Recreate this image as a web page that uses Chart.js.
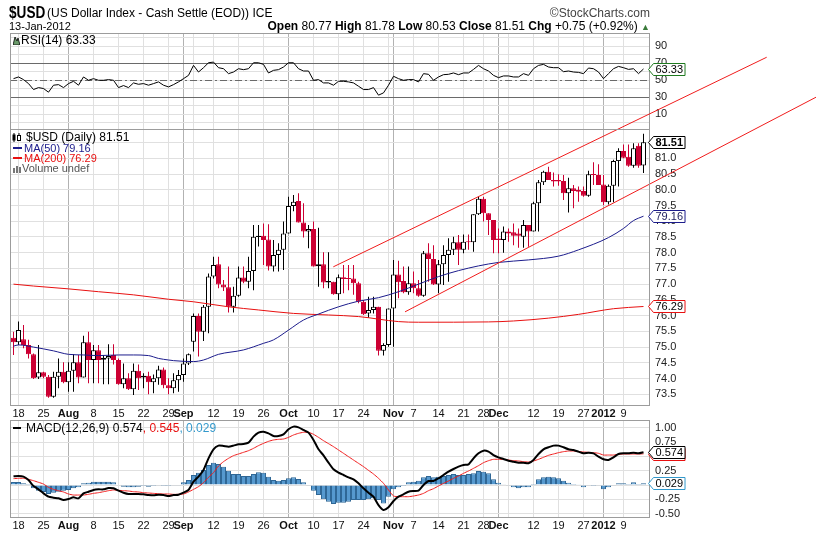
<!DOCTYPE html>
<html lang="en">
<head>
<meta charset="utf-8">
<title>$USD - US Dollar Index</title>
<script src="https://cdn.jsdelivr.net/npm/chart.js@4.4.1/dist/chart.umd.min.js"></script>
<style>
  html, body { margin: 0; padding: 0; background: #fff; }
  body { position: relative; width: 816px; height: 536px; overflow: hidden;
         font-family: "Liberation Sans", Arial, sans-serif; color: #000; }
  canvas { position: absolute; left: 0; top: 0; }
  .t { position: absolute; white-space: nowrap; line-height: 1; }
  .dash { display: inline-block; width: 9px; height: 2px; vertical-align: middle; margin: 0 2px 2px 0; }
  svg { vertical-align: -1px; }
</style>
</head>
<body>
<canvas id="rsiChart" width="816" height="536"></canvas>
<canvas id="macdChart" width="816" height="536"></canvas>
<canvas id="priceChart" width="816" height="536"></canvas>

<div class="t" style="left:9px;top:4px;font-size:17px;font-weight:bold;transform:scaleX(0.8);transform-origin:0 0">$USD</div>
<div class="t" style="left:47px;top:7px;font-size:12px">(US Dollar Index - Cash Settle (EOD)) ICE</div>
<div class="t" style="right:166px;top:7px;font-size:12px;color:#444">©StockCharts.com</div>
<div class="t" style="left:9px;top:20.5px;font-size:11px">13-Jan-2012</div>
<div class="t" style="right:166px;top:20px;font-size:12px"><b>Open</b> 80.77 <b>High</b> 81.78 <b>Low</b> 80.53 <b>Close</b> 81.51 <b>Chg</b> +0.75 (+0.92%) <span style="color:#3a7a3a;font-size:9px">&#9650;</span></div>

<div class="t" style="left:13px;top:34px;font-size:12px">
  <svg width="7" height="9"><polygon points="0,9 2,1 4,5 5,2 7,9" fill="#6a9a6a" stroke="#000" stroke-width="0.8"/></svg><span id="rsiLegend" style="margin-left:1px"></span>
</div>

<div class="t" style="left:12px;top:131px;font-size:12px">
  <svg width="11" height="9"><rect x="0.5" y="1.5" width="3" height="6" fill="#000"/><line x1="2" y1="0" x2="2" y2="9" stroke="#000"/><rect x="5.5" y="2.5" width="3" height="5" fill="#fff" stroke="#000"/><line x1="7" y1="0" x2="7" y2="2" stroke="#000"/></svg><span id="priceLegend" style="margin-left:3px"></span>
</div>
<div class="t" style="left:13px;top:142.5px;font-size:11px;color:#1c1c8c"><span class="dash" style="background:#1c1c8c"></span><span id="ma50Legend"></span></div>
<div class="t" style="left:13px;top:152.5px;font-size:11px;color:#e81010"><span class="dash" style="background:#e81010"></span><span id="ma200Legend"></span></div>
<div class="t" style="left:13px;top:162.5px;font-size:11px;color:#555">
  <svg width="9" height="8"><rect x="0" y="3" width="2" height="5" fill="#777"/><rect x="3" y="1" width="2" height="7" fill="#777"/><rect x="6" y="2" width="2" height="6" fill="#777"/></svg>Volume undef
</div>

<div class="t" style="left:13px;top:422px;font-size:12px"><span class="dash" style="background:#000;width:8px"></span><span id="macdLegend" style="margin-left:3px"></span><span id="sigLegend" style="color:#e81010"></span><span id="histLegend" style="color:#3399cc"></span></div>

<script>
const FONT = '"Liberation Sans", Arial, sans-serif';
const RED = '#cc0033';

// daily candles, 15-Jul-2011 .. 13-Jan-2012 (index 0..126)
const opens = [
  75.30,75.15,75.25,75.07,74.77,74.03,74.20,74.06,73.42,74.06,
  74.22,73.88,74.25,74.52,74.03,75.15,74.59,74.90,74.60,74.64,
  74.75,74.59,73.82,74.01,73.66,74.25,74.03,74.09,73.88,74.01,
  74.29,73.79,73.69,73.95,74.11,74.48,75.17,75.99,75.49,76.28,
  77.24,77.63,76.99,76.90,76.28,76.63,77.21,77.08,77.42,78.50,
  78.54,78.42,77.56,77.93,78.09,78.61,79.48,79.64,78.96,78.67,
  78.75,77.57,77.63,77.05,77.08,76.68,77.22,77.18,77.18,77.03,
  76.44,76.07,76.18,76.28,74.88,75.07,76.23,77.31,77.10,76.74,
  77.03,76.87,76.63,77.98,77.80,76.99,77.63,77.93,78.09,78.33,
  78.09,78.35,78.33,79.22,79.71,79.25,79.04,78.45,78.40,78.67,
  78.65,78.61,78.51,78.88,78.67,79.57,80.24,80.57,80.31,80.31,
  80.28,79.89,80.05,80.00,79.96,79.81,80.49,80.47,80.17,79.60,
  80.13,80.91,81.23,81.05,80.76,81.40,80.77
];
const highs = [
  75.49,75.81,75.70,75.23,74.80,75.07,74.22,74.11,74.22,74.64,
  74.52,74.52,74.77,74.75,75.36,75.49,75.07,75.07,74.75,75.09,
  75.09,74.64,74.48,74.17,74.48,74.45,74.17,74.22,74.13,74.41,
  74.35,74.01,74.17,74.27,74.64,74.80,76.07,76.07,76.34,77.34,
  77.87,77.87,77.13,77.56,76.92,77.56,77.56,77.87,78.88,78.88,
  78.93,78.90,78.40,78.30,78.99,79.78,79.83,79.89,79.57,78.88,
  78.99,78.79,78.01,78.01,77.08,77.31,77.61,77.61,77.61,77.08,
  76.50,76.60,76.60,76.28,75.12,76.23,77.77,77.74,77.56,77.56,
  77.40,77.13,78.05,78.30,78.24,77.77,78.24,78.46,78.51,78.56,
  78.58,78.58,79.22,79.78,79.78,79.25,79.04,78.77,78.83,78.77,
  78.93,78.77,79.04,78.88,79.62,80.31,80.60,80.73,80.55,80.49,
  80.47,80.38,80.15,80.10,80.10,80.60,80.87,80.81,80.47,80.17,
  80.95,81.32,81.44,81.44,81.48,81.48,81.78
];
const lows = [
  74.75,75.07,74.96,74.64,73.99,73.99,74.01,73.39,73.39,73.69,
  73.85,73.58,73.58,73.85,74.03,73.85,73.85,73.85,73.82,73.82,
  74.45,73.80,73.69,73.64,73.48,73.64,73.69,73.50,73.53,73.80,
  73.69,73.50,73.53,73.58,73.90,74.43,74.86,74.70,75.19,75.44,
  77.18,76.87,76.78,76.10,76.10,76.60,77.03,76.87,76.81,78.20,
  77.61,77.43,77.40,77.40,77.45,78.61,79.32,78.96,78.48,78.14,
  77.56,76.92,76.87,76.87,76.66,76.50,76.71,76.81,76.66,76.39,
  76.02,75.93,76.07,74.73,74.73,75.01,75.01,76.55,76.71,76.66,
  76.71,76.60,76.60,77.08,76.97,76.71,76.97,77.08,77.93,77.61,
  77.98,78.09,78.03,79.20,78.99,78.56,77.98,77.98,78.00,78.35,
  78.24,78.16,78.16,78.19,78.67,78.67,80.15,80.31,80.10,80.13,
  79.67,79.28,79.41,79.62,79.78,79.78,80.15,80.15,79.51,79.53,
  79.60,80.10,81.00,80.73,80.70,80.70,80.53
];
const closes = [
  75.15,75.54,75.07,74.77,74.01,74.20,74.06,73.42,74.06,74.22,
  73.88,74.25,74.52,74.03,75.15,74.59,74.90,74.59,74.66,74.72,
  74.59,73.82,74.01,73.66,74.25,74.01,74.09,73.88,74.01,74.29,
  73.79,73.69,73.95,74.11,74.48,74.77,75.99,75.49,76.28,77.24,
  77.61,76.99,76.89,76.28,76.63,77.21,77.08,77.42,78.51,78.54,
  78.40,77.56,77.93,78.09,78.61,79.48,79.62,78.96,78.67,78.75,
  77.56,77.63,77.05,77.10,76.68,77.22,77.16,77.16,77.03,76.44,
  76.04,76.18,76.28,74.88,75.07,76.23,77.31,77.06,76.74,77.03,
  76.87,76.63,77.98,77.80,76.99,77.63,77.93,78.09,78.33,78.09,
  78.35,78.33,79.22,79.71,79.25,79.04,78.40,78.40,78.67,78.61,
  78.54,78.54,78.88,78.67,79.57,80.24,80.57,80.31,80.26,80.26,
  79.89,80.05,79.96,79.94,79.81,80.49,80.47,80.15,79.60,80.13,
  80.91,81.23,81.02,80.76,81.32,80.76,81.51
];

// moving averages, read at selected days
const ma50Days = [0,1,4,8,11,14,17,21,24,27,29,31,32,36,38,41,46,50,52,55,58,61,65,69,73,77,81,85,89,93,97,103,109,113,119,122,124,126];
const ma50 = [75.03,75.07,75.00,74.88,74.77,74.75,74.73,74.75,74.75,74.73,74.64,74.59,74.57,74.54,74.59,74.77,74.91,75.12,75.23,75.54,75.86,76.05,76.28,76.46,76.57,76.76,77.00,77.24,77.43,77.58,77.69,77.77,77.89,78.09,78.48,78.77,79.02,79.16];
const ma200Days = [0,4,11,17,24,31,36,43,49,56,63,69,77,81,95,100,107,113,120,126];
const ma200 = [77.00,76.94,76.85,76.76,76.66,76.52,76.44,76.28,76.18,76.07,76.02,75.97,75.81,75.79,75.80,75.83,75.92,76.04,76.22,76.29];

// rising channel drawn on the price panel
const upperChannel = [{ x: 63.96, y: 77.55 }, { x: 150.64, y: 84.21 }];
const lowerChannel = [{ x: 78.3, y: 76.12 }, { x: 160.5, y: 82.94 }];

const rsi = [
  51.9,53.9,50.8,46.1,39.1,41.4,40.3,36.0,44.2,44.9,
  41.4,46.1,48.8,44.2,53.9,50.0,51.9,50.0,50.0,50.8,
  50.0,41.4,43.8,41.4,46.9,45.3,46.1,44.2,46.1,48.1,
  44.2,42.2,44.9,48.1,51.9,55.8,67.5,59.7,64.8,70.6,
  71.4,64.8,63.6,57.8,59.7,63.6,62.5,63.6,70.6,70.6,
  68.7,58.6,61.7,62.5,65.6,70.6,70.6,63.6,60.9,60.9,
  50.0,50.8,46.9,46.9,44.2,48.8,48.8,48.1,46.9,43.0,
  39.1,39.1,41.4,32.5,35.2,44.2,54.7,51.9,50.0,50.8,
  50.8,48.1,57.8,57.0,50.0,53.9,56.6,57.0,58.6,56.6,
  58.6,58.6,62.8,67.5,63.6,60.9,55.8,53.1,55.1,55.1,
  53.9,53.9,57.8,55.8,63.6,67.5,68.7,65.6,64.8,64.8,
  60.1,60.9,59.7,59.3,57.8,64.4,63.6,59.7,51.9,57.8,
  63.6,66.3,64.8,62.8,63.6,57.8,63.33
];

const macd = [
  0.152,0.157,0.146,0.087,-0.017,-0.076,-0.146,-0.204,-0.221,-0.233,
  -0.262,-0.245,-0.216,-0.233,-0.146,-0.117,-0.087,-0.076,-0.076,-0.052,
  -0.058,-0.099,-0.134,-0.157,-0.157,-0.157,-0.163,-0.175,-0.181,-0.169,
  -0.175,-0.192,-0.175,-0.169,-0.134,-0.087,0.058,0.146,0.262,0.466,
  0.624,0.688,0.682,0.670,0.688,0.711,0.717,0.740,0.845,0.915,
  0.932,0.903,0.857,0.857,0.886,0.973,1.020,1.008,0.962,0.915,
  0.787,0.624,0.517,0.390,0.274,0.216,0.175,0.134,0.099,0.029,
  -0.058,-0.134,-0.204,-0.350,-0.437,-0.390,-0.280,-0.204,-0.163,-0.117,
  -0.105,-0.099,0.000,0.070,0.070,0.117,0.175,0.233,0.280,0.321,
  0.350,0.361,0.466,0.554,0.600,0.583,0.524,0.484,0.455,0.425,
  0.408,0.390,0.390,0.379,0.437,0.542,0.624,0.659,0.688,0.688,
  0.659,0.624,0.612,0.583,0.554,0.565,0.554,0.495,0.449,0.437,
  0.484,0.542,0.554,0.554,0.565,0.554,0.574
];
const signal = [
  0.111,0.117,0.117,0.099,0.076,0.047,0.017,-0.041,-0.076,-0.099,
  -0.122,-0.157,-0.175,-0.175,-0.175,-0.163,-0.146,-0.134,-0.117,-0.099,
  -0.087,-0.093,-0.099,-0.105,-0.117,-0.122,-0.134,-0.140,-0.146,-0.152,
  -0.157,-0.157,-0.163,-0.163,-0.157,-0.122,-0.076,-0.029,0.041,0.134,
  0.216,0.332,0.408,0.466,0.513,0.542,0.571,0.600,0.641,0.688,
  0.728,0.763,0.787,0.798,0.804,0.833,0.874,0.903,0.921,0.921,
  0.886,0.833,0.775,0.723,0.670,0.612,0.554,0.495,0.437,0.379,
  0.321,0.256,0.192,0.117,0.029,-0.087,-0.192,-0.204,-0.204,-0.204,
  -0.192,-0.175,-0.146,-0.099,-0.064,-0.017,0.029,0.070,0.117,0.157,
  0.204,0.245,0.291,0.338,0.390,0.425,0.449,0.449,0.449,0.437,
  0.425,0.420,0.408,0.402,0.420,0.449,0.484,0.519,0.542,0.565,
  0.583,0.594,0.594,0.583,0.577,0.571,0.565,0.554,0.524,0.524,
  0.524,0.536,0.542,0.542,0.542,0.542,0.545
];
const hist = [
  0.052,0.052,0.029,0.017,-0.058,-0.099,-0.122,-0.157,-0.134,-0.117,
  -0.099,-0.087,-0.058,-0.041,0.029,0.041,0.058,0.058,0.058,0.058,
  0.047,0.000,-0.029,-0.041,-0.041,-0.029,-0.017,-0.029,-0.017,-0.006,
  -0.017,-0.017,-0.006,-0.006,0.047,0.087,0.175,0.216,0.262,0.350,
  0.390,0.367,0.321,0.251,0.192,0.192,0.157,0.157,0.192,0.221,
  0.216,0.146,0.087,0.076,0.087,0.117,0.134,0.105,0.047,-0.006,
  -0.099,-0.175,-0.251,-0.291,-0.332,-0.309,-0.309,-0.291,-0.262,-0.262,
  -0.262,-0.251,-0.233,-0.262,-0.321,-0.204,-0.076,-0.041,-0.017,0.047,
  0.058,0.076,0.134,0.157,0.134,0.146,0.157,0.175,0.192,0.175,
  0.175,0.192,0.204,0.245,0.233,0.204,0.099,0.041,0.006,-0.012,
  -0.041,-0.058,-0.041,-0.041,0.017,0.099,0.134,0.146,0.134,0.117,
  0.076,0.041,0.017,0.003,-0.041,-0.012,-0.017,-0.012,-0.076,-0.041,
  -0.006,0.029,0.029,0.017,0.047,0.017,0.029
];

// x axis: weekly grid lines, month starts in bold
const gridDays  = [1,6,11,16,21,26,31,34,36,40,45,50,55,60,65,70,75,76,80,85,90,94,97,99,104,109,114,118,122];
const gridText  = ['18','25','Aug','8','15','22','29','Sep','','12','19','26','Oct','10','17','24','','Nov','7','14','21','28','Dec','','12','19','27','2012','9'];
const monthDays = [11,34,55,76,97,118];

const rsiTicks   = [0,10,20,30,40,50,60,70,80,90,100];
const rsiLabels  = [10,30,50,70,90];
const priceTicks = [73.5,74,74.5,75,75.5,76,76.5,77,77.5,78,78.5,79,79.5,80,80.5,81,81.5];
const macdTicks  = [-0.5,-0.25,0,0.25,0.5,0.75,1.0];

const last = closes.length - 1;
const X_MIN = -0.7, X_MAX = 127.3;

// ---------- shared pieces ----------
const framePlugin = {
  id: 'frame',
  afterDatasetsDraw(chart) {
    const { ctx, chartArea: a } = chart;
    ctx.save();
    ctx.strokeStyle = '#9c9c9c';
    ctx.lineWidth = 1;
    ctx.strokeRect(a.left + 0.5, a.top + 0.5, a.width - 1, a.height);
    ctx.restore();
  }
};

function tagPlugin(items) {
  return {
    id: 'tags',
    afterDraw(chart) {
      const { ctx, chartArea: a, scales } = chart;
      ctx.save();
      items.forEach(t => {
        const y = Math.round(scales.y.getPixelForValue(t.value)) + 0.5;
        ctx.font = (t.bold ? 'bold ' : '') + '11px ' + FONT;
        const w = ctx.measureText(t.text).width;
        const x0 = a.right - 1.5, x1 = x0 + 5, x2 = x1 + w + 4;
        ctx.beginPath();
        ctx.moveTo(x0, y);
        ctx.lineTo(x1, y - 6);
        ctx.lineTo(x2, y - 6);
        ctx.lineTo(x2, y + 6);
        ctx.lineTo(x1, y + 6);
        ctx.closePath();
        ctx.fillStyle = '#fff';
        ctx.fill();
        ctx.strokeStyle = t.color;
        ctx.lineWidth = 1;
        ctx.stroke();
        ctx.fillStyle = t.textColor || '#000';
        ctx.textBaseline = 'middle';
        ctx.fillText(t.text, x1 + 2, y + 0.5);
      });
      ctx.restore();
    }
  };
}

const rsiLevelsPlugin = {
  id: 'rsiLevels',
  beforeDatasetsDraw(chart) {
    const { ctx, chartArea: a, scales } = chart;
    ctx.save();
    ctx.strokeStyle = '#6a6a6a';
    ctx.lineWidth = 1;
    [70, 50, 30].forEach(v => {
      const y = Math.round(scales.y.getPixelForValue(v)) + 0.5;
      ctx.setLineDash(v === 50 ? [7, 3, 2, 3] : []);
      ctx.beginPath();
      ctx.moveTo(a.left, y);
      ctx.lineTo(a.right, y);
      ctx.stroke();
    });
    ctx.restore();
  }
};

function xAxis(showLabels) {
  return {
    type: 'linear',
    min: X_MIN,
    max: X_MAX,
    offset: false,
    grid: {
      offset: false,
      drawTicks: false,
      color: c => (c.tick && monthDays.includes(c.tick.value)) ? '#b2b2b2' : '#e0e0e0'
    },
    border: { display: false },
    afterBuildTicks: s => { s.ticks = gridDays.map(v => ({ value: v })); },
    afterFit: s => { s.height = showLabels ? 15 : 0; s.paddingLeft = 0; s.paddingRight = 0; },
    ticks: {
      display: showLabels,
      autoSkip: false,
      maxRotation: 0,
      padding: 2,
      color: '#111',
      font: c => ({ family: FONT, size: 11, weight: (c.tick && monthDays.includes(c.tick.value)) ? 'bold' : 'normal' }),
      callback: v => gridText[gridDays.indexOf(v)]
    }
  };
}

function yAxis(min, max, ticks, fmt) {
  return {
    position: 'right',
    min: min,
    max: max,
    beginAtZero: false,
    grid: { drawTicks: false, color: '#e0e0e0' },
    border: { display: false },
    afterBuildTicks: s => { s.ticks = ticks.map(v => ({ value: v })); },
    afterFit: s => { s.width = 166; s.paddingTop = 0; s.paddingBottom = 0; },
    ticks: { autoSkip: false, padding: 5, color: '#222', font: { family: FONT, size: 11 }, callback: fmt }
  };
}

function baseOptions(padTop, padBottom) {
  return {
    responsive: false,
    animation: false,
    events: [],
    layout: { padding: { left: 10, right: 0, top: padTop, bottom: padBottom } },
    plugins: { legend: { display: false }, tooltip: { enabled: false } }
  };
}

// ---------- RSI panel ----------
new Chart(document.getElementById('rsiChart'), {
  type: 'line',
  data: {
    datasets: [{
      data: rsi.map((v, i) => ({ x: i, y: v })),
      borderColor: '#000',
      borderWidth: 1,
      pointRadius: 0,
      tension: 0
    }]
  },
  options: Object.assign(baseOptions(33, 536 - 129), {
    scales: {
      x: xAxis(false),
      y: yAxis(-7.3, 105.6, rsiTicks, v => rsiLabels.includes(v) ? String(v) : '')
    }
  }),
  plugins: [rsiLevelsPlugin, framePlugin,
    tagPlugin([{ value: rsi[last], text: rsi[last].toFixed(2), color: '#1f7a1f' }])]
});

// ---------- price panel ----------
const isUp = closes.map((c, i) => c >= opens[i]);
const bodyFill = isUp.map(u => u ? '#ffffff' : RED);
const candleLine = isUp.map(u => u ? '#000000' : RED);

new Chart(document.getElementById('priceChart'), {
  type: 'bar',
  data: {
    datasets: [
      { type: 'line', data: upperChannel, borderColor: '#f01c1c', borderWidth: 1, pointRadius: 0, clip: false, order: 0 },
      { type: 'line', data: lowerChannel, borderColor: '#f01c1c', borderWidth: 1, pointRadius: 0, clip: false, order: 0 },
      { type: 'line', data: ma50Days.map((d, k) => ({ x: d, y: ma50[k] })), borderColor: '#1c1c8c',
        borderWidth: 1, pointRadius: 0, cubicInterpolationMode: 'monotone', order: 1 },
      { type: 'line', data: ma200Days.map((d, k) => ({ x: d, y: ma200[k] })), borderColor: '#e81010',
        borderWidth: 1, pointRadius: 0, cubicInterpolationMode: 'monotone', order: 1 },
      { type: 'bar', data: opens.map((o, i) => ({ x: i, y: [o, closes[i]] })),
        backgroundColor: bodyFill, borderColor: candleLine, borderWidth: 1, borderSkipped: false,
        barThickness: 5, minBarLength: 1, inflateAmount: 0, grouped: false, order: 2 },
      { type: 'bar', data: lows.map((l, i) => ({ x: i, y: [l, highs[i]] })),
        backgroundColor: candleLine, borderWidth: 0, barThickness: 1, inflateAmount: 0, grouped: false, order: 3 }
    ]
  },
  options: Object.assign(baseOptions(129, 536 - 420), {
    scales: {
      x: xAxis(true),
      y: yAxis(73.16, 81.93, priceTicks, v => v.toFixed(1))
    }
  }),
  plugins: [framePlugin, tagPlugin([
    { value: ma200[ma200.length - 1], text: ma200[ma200.length - 1].toFixed(2), color: '#e81010' },
    { value: ma50[ma50.length - 1], text: ma50[ma50.length - 1].toFixed(2), color: '#1c1c8c', textColor: '#1c1c5c' },
    { value: closes[last], text: closes[last].toFixed(2), color: '#000', bold: true }
  ])]
});

// ---------- MACD panel ----------
new Chart(document.getElementById('macdChart'), {
  type: 'bar',
  data: {
    datasets: [
      { type: 'line', data: macd.map((v, i) => ({ x: i, y: v })), borderColor: '#000', borderWidth: 2,
        pointRadius: 0, tension: 0.2, order: 0 },
      { type: 'line', data: signal.map((v, i) => ({ x: i, y: v })), borderColor: '#f01c1c', borderWidth: 1,
        pointRadius: 0, tension: 0.2, order: 1 },
      { type: 'bar', data: hist.map((v, i) => ({ x: i, y: v })), backgroundColor: '#5699cf',
        borderColor: '#2f6796', borderWidth: 1, barThickness: 5, inflateAmount: 0, grouped: false, order: 2 }
    ]
  },
  options: Object.assign(baseOptions(420, 4), {
    scales: {
      x: xAxis(true),
      y: yAxis(-0.559, 1.136, macdTicks, v => v.toFixed(2))
    }
  }),
  plugins: [framePlugin, tagPlugin([
    { value: signal[last], text: signal[last].toFixed(3), color: '#e81010' },
    { value: macd[last], text: macd[last].toFixed(3), color: '#000' },
    { value: hist[last], text: hist[last].toFixed(3), color: '#3399cc' }
  ])]
});

// ---------- legend texts ----------
document.getElementById('rsiLegend').textContent = 'RSI(14) ' + rsi[last].toFixed(2);
document.getElementById('priceLegend').textContent = '$USD (Daily) ' + closes[last].toFixed(2);
document.getElementById('ma50Legend').textContent = 'MA(50) ' + ma50[ma50.length - 1].toFixed(2);
document.getElementById('ma200Legend').textContent = 'MA(200) ' + ma200[ma200.length - 1].toFixed(2);
document.getElementById('macdLegend').textContent = 'MACD(12,26,9) ' + macd[last].toFixed(3);
document.getElementById('sigLegend').textContent = ', ' + signal[last].toFixed(3);
document.getElementById('histLegend').textContent = ', ' + hist[last].toFixed(3);
</script>
</body>
</html>
